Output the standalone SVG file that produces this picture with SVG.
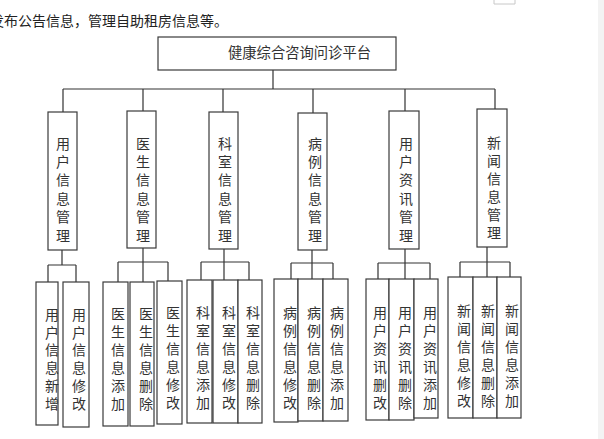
<svg xmlns="http://www.w3.org/2000/svg" width="604" height="439" viewBox="0 0 604 439">
<style>
.box{fill:#fff;stroke:#3a3a3a;stroke-width:1.2}
.ln{fill:none;stroke:#333;stroke-width:1.2}
.t{font-family:"Noto Sans CJK SC","Noto Sans",sans-serif;font-size:14px;fill:#333;text-anchor:middle}
</style>
<rect width="604" height="439" fill="#fff"/>
<rect x="598" y="0" width="6" height="439" fill="#f3f3f3"/>
<path d="M494 0V4H515V0" fill="none" stroke="#c8c8c8" stroke-width="1"/>
<text x="-10" y="25.5" style="font-family:'Noto Sans CJK SC',sans-serif;font-size:14px;fill:#222">发布公告信息，管理自助租房信息等。</text>
<g id="connectors">
<path class="ln" d="M273 70V89M63 89H495M63 89V112M143 89V111M223 89V112M313 89V113M405 89V111M495 89V109"/>
<path class="ln" d="M62 250V265M48 265H76M48 265V282M76 265V282"/>
<path class="ln" d="M143 248V282M118 262H168M118 262V282M168 262V281"/>
<path class="ln" d="M224 249V280M201 262H249M201 262V280M249 262V280"/>
<path class="ln" d="M312 250V279M291 263H333M291 263V279M333 263V279"/>
<path class="ln" d="M405 249V279M378 263H430M378 263V279M430 263V279"/>
<path class="ln" d="M487 247V277M460 262H510M460 262V277M510 262V277"/>
</g>
<g id="root"><rect class="box" x="158" y="37" width="238" height="33"/><text class="t" x="299.5" y="57.5" style="font-size:14.3px">健康综合咨询问诊平台</text></g>
<g id="n1"><rect class="box" x="48" y="112" width="29" height="138"/>
<text class="t" x="63" y="148.5">用</text><text class="t" x="63" y="166.9">户</text><text class="t" x="63" y="185.3">信</text><text class="t" x="63" y="203.7">息</text><text class="t" x="63" y="222.1">管</text><text class="t" x="63" y="240.5">理</text></g>
<g id="n2"><rect class="box" x="127" y="111" width="29" height="137"/>
<text class="t" x="143" y="148.5">医</text><text class="t" x="143" y="166.9">生</text><text class="t" x="143" y="185.3">信</text><text class="t" x="143" y="203.7">息</text><text class="t" x="143" y="222.1">管</text><text class="t" x="143" y="240.5">理</text></g>
<g id="n3"><rect class="box" x="209" y="112" width="29" height="137"/>
<text class="t" x="225" y="148.5">科</text><text class="t" x="225" y="166.9">室</text><text class="t" x="225" y="185.3">信</text><text class="t" x="225" y="203.7">息</text><text class="t" x="225" y="222.1">管</text><text class="t" x="225" y="240.5">理</text></g>
<g id="n4"><rect class="box" x="298" y="113" width="29" height="137"/>
<text class="t" x="315" y="148.5">病</text><text class="t" x="315" y="166.9">例</text><text class="t" x="315" y="185.3">信</text><text class="t" x="315" y="203.7">息</text><text class="t" x="315" y="222.1">管</text><text class="t" x="315" y="240.5">理</text></g>
<g id="n5"><rect class="box" x="389" y="111" width="30" height="138"/>
<text class="t" x="406" y="148.5">用</text><text class="t" x="406" y="166.9">户</text><text class="t" x="406" y="185.3">资</text><text class="t" x="406" y="203.7">讯</text><text class="t" x="406" y="222.1">管</text><text class="t" x="406" y="240.5">理</text></g>
<g id="n6"><rect class="box" x="477" y="109" width="30" height="138"/>
<text class="t" x="494" y="147.5">新</text><text class="t" x="494" y="165.5">闻</text><text class="t" x="494" y="183.5">信</text><text class="t" x="494" y="201.5">息</text><text class="t" x="494" y="219.5">管</text><text class="t" x="494" y="237.5">理</text></g>
<g id="l1"><rect class="box" x="36" y="282" width="22" height="143"/>
<text class="t" x="52" y="320">用</text><text class="t" x="52" y="337.7">户</text><text class="t" x="52" y="355.4">信</text><text class="t" x="52" y="373.1">息</text><text class="t" x="52" y="390.8">新</text><text class="t" x="52" y="408.5">增</text></g>
<g id="l2"><rect class="box" x="63" y="282" width="26" height="145"/>
<text class="t" x="79" y="320">用</text><text class="t" x="79" y="337.7">户</text><text class="t" x="79" y="355.4">信</text><text class="t" x="79" y="373.1">息</text><text class="t" x="79" y="390.8">修</text><text class="t" x="79" y="408.5">改</text></g>
<g id="l3"><rect class="box" x="103" y="282" width="25" height="144"/>
<text class="t" x="118" y="319">医</text><text class="t" x="118" y="337">生</text><text class="t" x="118" y="355">信</text><text class="t" x="118" y="373">息</text><text class="t" x="118" y="391">添</text><text class="t" x="118" y="409">加</text></g>
<g id="l4"><rect class="box" x="130" y="282" width="24" height="144"/>
<text class="t" x="146" y="319">医</text><text class="t" x="146" y="337">生</text><text class="t" x="146" y="355">信</text><text class="t" x="146" y="373">息</text><text class="t" x="146" y="391">删</text><text class="t" x="146" y="409">除</text></g>
<g id="l5"><rect class="box" x="157" y="281" width="25" height="143"/>
<text class="t" x="173" y="318">医</text><text class="t" x="173" y="336">生</text><text class="t" x="173" y="354">信</text><text class="t" x="173" y="372">息</text><text class="t" x="173" y="390">修</text><text class="t" x="173" y="408">改</text></g>
<g id="l6"><rect class="box" x="187" y="280" width="25" height="143"/>
<text class="t" x="203" y="317.5">科</text><text class="t" x="203" y="335.5">室</text><text class="t" x="203" y="353.5">信</text><text class="t" x="203" y="371.5">息</text><text class="t" x="203" y="389.5">添</text><text class="t" x="203" y="407.5">加</text></g>
<g id="l7"><rect class="box" x="213" y="280" width="25" height="143"/>
<text class="t" x="229" y="317.5">科</text><text class="t" x="229" y="335.5">室</text><text class="t" x="229" y="353.5">信</text><text class="t" x="229" y="371.5">息</text><text class="t" x="229" y="389.5">修</text><text class="t" x="229" y="407.5">改</text></g>
<g id="l8"><rect class="box" x="238" y="280" width="24" height="143"/>
<text class="t" x="253" y="317.5">科</text><text class="t" x="253" y="335.5">室</text><text class="t" x="253" y="353.5">信</text><text class="t" x="253" y="371.5">息</text><text class="t" x="253" y="389.5">删</text><text class="t" x="253" y="407.5">除</text></g>
<g id="l9"><rect class="box" x="274" y="279" width="24" height="143"/>
<text class="t" x="290" y="317.5">病</text><text class="t" x="290" y="335.5">例</text><text class="t" x="290" y="353.5">信</text><text class="t" x="290" y="371.5">息</text><text class="t" x="290" y="389.5">修</text><text class="t" x="290" y="407.5">改</text></g>
<g id="l10"><rect class="box" x="298" y="279" width="25" height="142"/>
<text class="t" x="314" y="317.5">病</text><text class="t" x="314" y="335.5">例</text><text class="t" x="314" y="353.5">信</text><text class="t" x="314" y="371.5">息</text><text class="t" x="314" y="389.5">删</text><text class="t" x="314" y="407.5">除</text></g>
<g id="l11"><rect class="box" x="323" y="279" width="25" height="142"/>
<text class="t" x="337" y="317.5">病</text><text class="t" x="337" y="335.5">例</text><text class="t" x="337" y="353.5">信</text><text class="t" x="337" y="371.5">息</text><text class="t" x="337" y="389.5">添</text><text class="t" x="337" y="407.5">加</text></g>
<g id="l12"><rect class="box" x="366" y="279" width="23" height="141"/>
<text class="t" x="380" y="317.5">用</text><text class="t" x="380" y="335.5">户</text><text class="t" x="380" y="353.5">资</text><text class="t" x="380" y="371.5">讯</text><text class="t" x="380" y="389.5">删</text><text class="t" x="380" y="407.5">改</text></g>
<g id="l13"><rect class="box" x="389" y="279" width="25" height="141"/>
<text class="t" x="405" y="317.5">用</text><text class="t" x="405" y="335.5">户</text><text class="t" x="405" y="353.5">资</text><text class="t" x="405" y="371.5">讯</text><text class="t" x="405" y="389.5">删</text><text class="t" x="405" y="407.5">除</text></g>
<g id="l14"><rect class="box" x="414" y="279" width="24" height="139"/>
<text class="t" x="430" y="317.5">用</text><text class="t" x="430" y="335.5">户</text><text class="t" x="430" y="353.5">资</text><text class="t" x="430" y="371.5">讯</text><text class="t" x="430" y="389.5">添</text><text class="t" x="430" y="407.5">加</text></g>
<g id="l15"><rect class="box" x="448" y="277" width="25" height="141"/>
<text class="t" x="464" y="315.5">新</text><text class="t" x="464" y="333.5">闻</text><text class="t" x="464" y="351.5">信</text><text class="t" x="464" y="369.5">息</text><text class="t" x="464" y="387.5">修</text><text class="t" x="464" y="405.5">改</text></g>
<g id="l16"><rect class="box" x="473" y="277" width="24" height="141"/>
<text class="t" x="488" y="315.5">新</text><text class="t" x="488" y="333.5">闻</text><text class="t" x="488" y="351.5">信</text><text class="t" x="488" y="369.5">息</text><text class="t" x="488" y="387.5">删</text><text class="t" x="488" y="405.5">除</text></g>
<g id="l17"><rect class="box" x="497" y="277" width="24" height="141"/>
<text class="t" x="512" y="315.5">新</text><text class="t" x="512" y="333.5">闻</text><text class="t" x="512" y="351.5">信</text><text class="t" x="512" y="369.5">息</text><text class="t" x="512" y="387.5">添</text><text class="t" x="512" y="405.5">加</text></g>
</svg>
